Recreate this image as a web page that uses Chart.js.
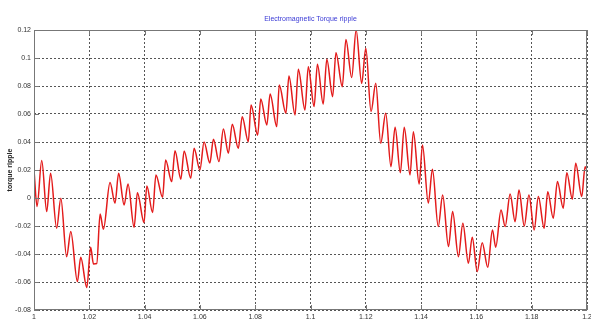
<!DOCTYPE html>
<html>
<head>
<meta charset="utf-8">
<script src="https://cdn.jsdelivr.net/npm/chart.js@4/dist/chart.umd.min.js"></script>
<style>
  html, body { margin: 0; padding: 0; background: #fff; }
  #wrap { width: 591px; height: 324px; }
</style>
</head>
<body>
<div id="wrap"><canvas id="torqueChart" width="591" height="324"></canvas></div>
<script>
// values (peaks and troughs of the ripple)
const timeValues = [
  1.0000, 1.0011, 1.0028, 1.0046, 1.0060, 1.0082, 1.0097, 1.0118, 1.0133, 1.0157,
  1.0169, 1.0191, 1.0205, 1.0215, 1.0227, 1.0239, 1.0251, 1.0275, 1.0293, 1.0306,
  1.0326, 1.0340, 1.0362, 1.0374, 1.0398, 1.0408, 1.0429, 1.0441, 1.0465, 1.0476,
  1.0498, 1.0510, 1.0531, 1.0543, 1.0567, 1.0579, 1.0600, 1.0615, 1.0636, 1.0649,
  1.0669, 1.0685, 1.0703, 1.0717, 1.0739, 1.0753, 1.0775, 1.0785, 1.0809, 1.0820,
  1.0842, 1.0854, 1.0878, 1.0887, 1.0911, 1.0922, 1.0944, 1.0956, 1.0980, 1.0992,
  1.1013, 1.1025, 1.1046, 1.1059, 1.1080, 1.1092, 1.1115, 1.1128, 1.1149, 1.1165,
  1.1185, 1.1200, 1.1219, 1.1236, 1.1254, 1.1272, 1.1291, 1.1306, 1.1325, 1.1339,
  1.1360, 1.1372, 1.1393, 1.1405, 1.1426, 1.1441, 1.1462, 1.1478, 1.1499, 1.1514,
  1.1535, 1.1551, 1.1571, 1.1585, 1.1603, 1.1621, 1.1641, 1.1658, 1.1670, 1.1689,
  1.1704, 1.1722, 1.1740, 1.1754, 1.1773, 1.1790, 1.1809, 1.1824, 1.1845, 1.1858,
  1.1878, 1.1893, 1.1914, 1.1927, 1.1947, 1.1959, 1.1981, 1.1993, 1.2000
];
const torqueValues = [
  0.0200, -0.0060, 0.0267, -0.0097, 0.0177, -0.0216, -0.0002, -0.0419, -0.0240, -0.0597,
  -0.0423, -0.0640, -0.0352, -0.0471, -0.0468, -0.0114, -0.0223, 0.0110, -0.0037, 0.0177,
  -0.0050, 0.0100, -0.0209, 0.0038, -0.0176, 0.0086, -0.0104, 0.0165, 0.0005, 0.0272,
  0.0117, 0.0338, 0.0134, 0.0336, 0.0141, 0.0355, 0.0200, 0.0400, 0.0250, 0.0420,
  0.0260, 0.0493, 0.0320, 0.0527, 0.0355, 0.0581, 0.0402, 0.0664, 0.0450, 0.0707,
  0.0522, 0.0743, 0.0510, 0.0807, 0.0605, 0.0871, 0.0593, 0.0919, 0.0629, 0.0938,
  0.0653, 0.0955, 0.0672, 0.0991, 0.0724, 0.1038, 0.0795, 0.1133, 0.0860, 0.1200,
  0.0819, 0.1069, 0.0617, 0.0819, 0.0391, 0.0605, 0.0224, 0.0505, 0.0180, 0.0505,
  0.0165, 0.0474, 0.0100, 0.0379, -0.0037, 0.0205, -0.0204, 0.0022, -0.0347, -0.0097,
  -0.0419, -0.0180, -0.0466, -0.0280, -0.0526, -0.0319, -0.0495, -0.0228, -0.0351, -0.0085,
  -0.0204, 0.0029, -0.0169, 0.0058, -0.0200, 0.0022, -0.0228, 0.0010, -0.0216, 0.0045,
  -0.0145, 0.0117, -0.0073, 0.0181, -0.0009, 0.0248, 0.0010, 0.0224, 0.0200
];
const xTicks = [1, 1.02, 1.04, 1.06, 1.08, 1.1, 1.12, 1.14, 1.16, 1.18, 1.2];
const yTicks = [-0.08, -0.06, -0.04, -0.02, 0, 0.02, 0.04, 0.06, 0.08, 0.1, 0.12];

const FONT = 'Liberation Sans, Arial, sans-serif';

// title centred over the plot, plus the matlab style box with inner ticks
const framePlugin = {
  id: 'frame',
  afterDraw(chart) {
    const { ctx, chartArea: a, scales } = chart;
    ctx.save();
    ctx.font = '7px ' + FONT;
    ctx.fillStyle = '#3b3bd6';
    ctx.textAlign = 'center';
    ctx.textBaseline = 'middle';
    ctx.fillText('Electromagnetic Torque ripple', (a.left + a.right) / 2, 19);

    ctx.strokeStyle = '#777';
    ctx.lineWidth = 1;
    ctx.strokeRect(a.left + 0.5, a.top + 0.5, a.right - a.left - 1, a.bottom - a.top - 1);
    ctx.beginPath();
    xTicks.forEach(v => {
      const px = Math.round(scales.x.getPixelForValue(v)) + 0.5;
      ctx.moveTo(px, a.bottom); ctx.lineTo(px, a.bottom - 5);
      ctx.moveTo(px, a.top); ctx.lineTo(px, a.top + 5);
    });
    yTicks.forEach(v => {
      const py = Math.round(scales.y.getPixelForValue(v)) + 0.5;
      ctx.moveTo(a.left, py); ctx.lineTo(a.left + 5, py);
      ctx.moveTo(a.right, py); ctx.lineTo(a.right - 5, py);
    });
    ctx.stroke();
    ctx.restore();
  }
};

const ctx = document.getElementById('torqueChart').getContext('2d');
new Chart(ctx, {
  type: 'line',
  data: {
    datasets: [{
      data: timeValues.map((t, i) => ({ x: t, y: torqueValues[i] })),
      borderColor: '#e31b1b',
      borderWidth: 1.5,
      pointRadius: 0,
      cubicInterpolationMode: 'monotone',
      fill: false
    }]
  },
  options: {
    responsive: false,
    animation: false,
    layout: { padding: { top: 30, right: 4, left: 0, bottom: 0 } },
    plugins: { legend: { display: false }, tooltip: { enabled: false }, title: { display: false } },
    scales: {
      x: {
        type: 'linear', min: 1, max: 1.2,
        afterBuildTicks: s => { s.ticks = xTicks.map(v => ({ value: v })); },
        afterFit: s => { s.height = 14; s.paddingLeft = 0; s.paddingRight = 0; },
        ticks: {
          font: { family: FONT, size: 7 }, color: '#333', padding: 3, maxRotation: 0,
          autoSkip: false,
          callback: v => String(Number(v.toFixed(2)))
        },
        grid: { color: '#555', drawTicks: false, lineWidth: 1 },
        border: { display: false, dash: [2, 2] }
      },
      y: {
        type: 'linear', min: -0.08, max: 0.12,
        afterBuildTicks: s => { s.ticks = yTicks.map(v => ({ value: v })); },
        afterFit: s => { s.width = 34; s.paddingTop = 0; s.paddingBottom = 0; },
        ticks: {
          font: { family: FONT, size: 7 }, color: '#333', padding: 3,
          autoSkip: false,
          callback: v => String(Number(v.toFixed(2)))
        },
        title: {
          display: true, text: 'torque ripple', color: '#222',
          font: { family: FONT, size: 7, weight: 'bold' }, padding: { top: 6, bottom: 0 }
        },
        grid: { color: '#555', drawTicks: false, lineWidth: 1 },
        border: { display: false, dash: [2, 2] }
      }
    }
  },
  plugins: [framePlugin]
});
</script>
</body>
</html>
